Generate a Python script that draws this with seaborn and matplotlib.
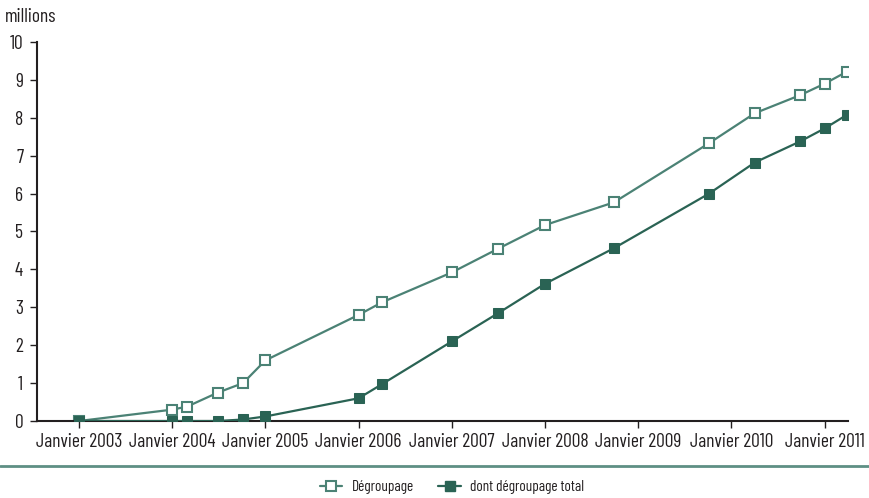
import numpy as np
import pandas as pd
import matplotlib
matplotlib.use("Agg")
import matplotlib.pyplot as plt
import seaborn as sns
from matplotlib.lines import Line2D

# dates as decimal years (tick "Janvier YYYY" sits at YYYY.0)
dates_deg = [2003.0, 2004.0, 2004.16, 2004.49, 2004.76, 2005.0, 2006.0, 2006.25,
             2007.0, 2007.5, 2008.0, 2008.74, 2009.76, 2010.25, 2010.74, 2011.0, 2011.24]
degroupage = [0.0, 0.3, 0.38, 0.75, 1.0, 1.6, 2.8, 3.13,
              3.92, 4.55, 5.17, 5.77, 7.33, 8.12, 8.6, 8.9, 9.22]
dates_tot = dates_deg
degroupage_total = [0.0, 0.0, 0.0, 0.0, 0.04, 0.12, 0.6, 0.97,
                    2.1, 2.85, 3.62, 4.56, 6.0, 6.82, 7.38, 7.72, 8.08]
tick_years = list(range(2003, 2012))
tick_labels = [f"Janvier {y}" for y in tick_years]
series_names = ["Dégroupage", "dont dégroupage total"]

light = "#4b8275"
dark = "#2a6354"
axis_col = "#231f20"

sns.set_theme(style="white")
plt.rcParams["font.family"] = ["Barlow Condensed", "DejaVu Sans"]

fig = plt.figure(figsize=(8.69, 4.98), dpi=100)
ax = fig.add_axes([0.0426, 0.1546, 0.9332, 0.7611])

df1 = pd.DataFrame({"date": dates_deg, "val": degroupage})
df2 = pd.DataFrame({"date": dates_tot, "val": degroupage_total})

sns.lineplot(data=df2, x="date", y="val", ax=ax, color=dark, lw=1.6,
             marker="s", markersize=7, markerfacecolor=dark, markeredgecolor=dark,
             label=series_names[1], zorder=3)
sns.lineplot(data=df1, x="date", y="val", ax=ax, color=light, lw=1.6,
             marker="s", markersize=6.5, markerfacecolor="white", markeredgecolor=light,
             markeredgewidth=1.5, label=series_names[0], zorder=2)

ax.set_xlim(2002.55, 2011.25)
ax.set_ylim(0, 10)
ax.set_xticks(tick_years)
ax.set_xticklabels(tick_labels)
ax.set_yticks(range(0, 11))
ax.set_xlabel("")
ax.set_ylabel("")
ax.tick_params(axis="both", labelsize=14, colors=axis_col, length=5, width=1,
               direction="out", bottom=True, left=True)
ax.tick_params(axis="y", pad=5)
for s in ["top", "right"]:
    ax.spines[s].set_visible(False)
for s in ["left", "bottom"]:
    ax.spines[s].set_color(axis_col)
    ax.spines[s].set_linewidth(1.5)
ax.get_legend().remove()

fig.text(0.006, 0.955, "millions", fontsize=14, color=axis_col)

fig.add_artist(Line2D([0, 1], [0.064, 0.064], color="#5e8f84", lw=2,
                      transform=fig.transFigure))

handles = [
    Line2D([], [], color=light, lw=1.6, marker="s", markersize=6.5,
           markerfacecolor="white", markeredgecolor=light, markeredgewidth=1.5),
    Line2D([], [], color=dark, lw=1.6, marker="s", markersize=7,
           markerfacecolor=dark, markeredgecolor=dark),
]
fig.legend(handles, series_names, loc="center", bbox_to_anchor=(0.52, 0.022),
           ncol=2, frameon=False, fontsize=11, handlelength=1.5,
           columnspacing=1.6, handletextpad=0.6, labelcolor=axis_col)

fig.savefig("out.png", dpi=100)
